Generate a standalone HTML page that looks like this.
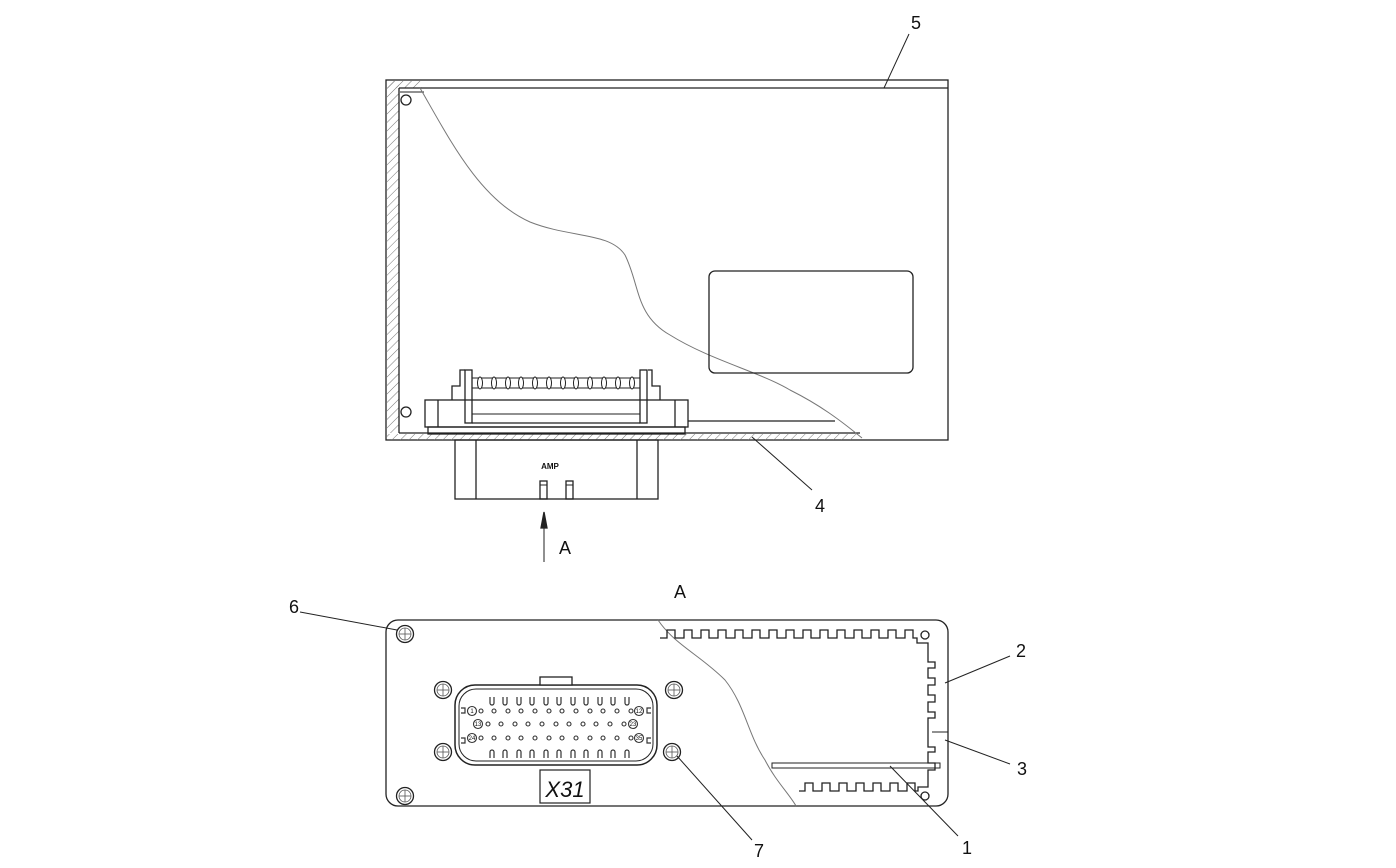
<!DOCTYPE html>
<html><head><meta charset="utf-8"><style>html,body{margin:0;padding:0;background:#fff}svg{display:block}text{font-family:"Liberation Sans",sans-serif;fill:#111}</style></head>
<body>
<svg width="1396" height="868" viewBox="0 0 1396 868" xmlns="http://www.w3.org/2000/svg">
<defs>
<pattern id="h" width="6" height="6" patternUnits="userSpaceOnUse" patternTransform="rotate(45)"><line x1="0" y1="0" x2="0" y2="6" stroke="#777" stroke-width="1"/></pattern>
<g id="scr"><circle r="8.5" fill="#fff" stroke="#222" stroke-width="1.3"/><circle r="6" fill="none" stroke="#555" stroke-width="0.8"/><line x1="-6" y1="0" x2="6" y2="0" stroke="#555" stroke-width="0.8"/><line x1="0" y1="-6" x2="0" y2="6" stroke="#555" stroke-width="0.8"/></g>
</defs>
<g fill="none" stroke="#222" stroke-width="1.3">
<!-- top view -->
<rect x="386" y="80" width="562" height="360"/>
<rect x="387" y="81" width="12" height="352" fill="url(#h)" stroke="none"/>
<rect x="387" y="81" width="35" height="7" fill="url(#h)" stroke="none"/>
<rect x="387" y="434" width="470" height="6" fill="url(#h)" stroke="none"/>
<line x1="399" y1="88" x2="399" y2="433"/>
<line x1="399" y1="88" x2="948" y2="88"/>
<line x1="400" y1="92" x2="424" y2="92" stroke-width="1"/>
<line x1="399" y1="433" x2="860" y2="433"/>
<line x1="688" y1="421" x2="835" y2="421"/>
<circle cx="406" cy="100" r="5"/><circle cx="406" cy="412" r="5"/>
<path d="M420,88 C450,140 480,200 530,222 C570,238 610,232 625,255 C640,285 635,315 670,335 C710,360 760,372 790,390 C820,405 840,420 862,438" stroke="#777" stroke-width="1"/>
<rect x="709" y="271" width="204" height="102" rx="6"/>
<!-- connector top -->
<rect x="425" y="400" width="263" height="27"/>
<rect x="428" y="427" width="257" height="7"/>
<line x1="438" y1="400" x2="438" y2="427"/><line x1="675" y1="400" x2="675" y2="427"/>
<path d="M452,400 V386 H460 V370 H465"/><path d="M660,400 V386 H652 V370 H648"/>
<rect x="465" y="370" width="7" height="53"/><rect x="640" y="370" width="7" height="53"/>
<line x1="472" y1="414" x2="640" y2="414" stroke-width="1"/>
<line x1="472" y1="423" x2="640" y2="423"/>
<line x1="472" y1="378" x2="640" y2="378" stroke-width="1"/>
<line x1="472" y1="388" x2="640" y2="388" stroke-width="1"/>
<g fill="#fff" stroke-width="1">
<ellipse cx="480" cy="383" rx="2.5" ry="6"/><ellipse cx="494" cy="383" rx="2.5" ry="6"/><ellipse cx="508" cy="383" rx="2.5" ry="6"/><ellipse cx="521" cy="383" rx="2.5" ry="6"/><ellipse cx="535" cy="383" rx="2.5" ry="6"/><ellipse cx="549" cy="383" rx="2.5" ry="6"/><ellipse cx="563" cy="383" rx="2.5" ry="6"/><ellipse cx="576" cy="383" rx="2.5" ry="6"/><ellipse cx="590" cy="383" rx="2.5" ry="6"/><ellipse cx="604" cy="383" rx="2.5" ry="6"/><ellipse cx="618" cy="383" rx="2.5" ry="6"/><ellipse cx="632" cy="383" rx="2.5" ry="6"/>
</g>
<rect x="455" y="440" width="203" height="59"/>
<line x1="476" y1="440" x2="476" y2="499"/><line x1="637" y1="440" x2="637" y2="499"/>
<rect x="540" y="481" width="7" height="18"/><rect x="566" y="481" width="7" height="18"/>
<line x1="540" y1="485" x2="547" y2="485" stroke-width="1"/><line x1="566" y1="485" x2="573" y2="485" stroke-width="1"/>
<!-- arrow -->
<line x1="544" y1="562" x2="544" y2="522" stroke-width="1"/>
<path d="M544,512 L541,528 L547,528 Z" fill="#222"/>
<!-- leaders -->
<line x1="909" y1="34" x2="884" y2="88" stroke-width="1"/>
<line x1="812" y1="490" x2="752" y2="437" stroke-width="1"/>
<!-- bottom view -->
<rect x="386" y="620" width="562" height="186" rx="12"/>
<path d="M658,620 C675,645 700,655 725,680 C745,705 748,735 765,760 C775,780 790,795 796,806" stroke="#777" stroke-width="1"/>
<path d="M660,638 h7 v-8 h8 v8 h9 v-8 h8 v8 h9 v-8 h8 v8 h9 v-8 h8 v8 h9 v-8 h8 v8 h9 v-8 h8 v8 h9 v-8 h8 v8 h9 v-8 h8 v8 h9 v-8 h8 v8 h9 v-8 h8 v8 h9 v-8 h8 v8 h9 v-8 h8 v8 h9 v-8 h8 v8 h9 v-8 h8 v8 h9 v-8 h8 v8 h4 v5 h11 V662 h7 v6 h-7 v10 h7 v7 h-7 v10 h7 v7 h-7 v10 h7 v6 h-7 v29 h7 v5 h-7 v11 h7 v7 h-7 v17 h-10 v4 h-3 v-8 h-8 v8 h-9 v-8 h-8 v8 h-9 v-8 h-8 v8 h-9 v-8 h-8 v8 h-9 v-8 h-8 v8 h-9 v-8 h-8 v8 h-9 v-8 h-8 v8 h-6"/>
<line x1="932" y1="732" x2="948" y2="732" stroke-width="1"/>
<rect x="772" y="763" width="168" height="5" stroke-width="1"/>
<circle cx="925" cy="635" r="4"/><circle cx="925" cy="796" r="4"/>
<use href="#scr" x="405" y="634"/><use href="#scr" x="405" y="796"/>
<use href="#scr" x="443" y="690"/><use href="#scr" x="443" y="752"/>
<use href="#scr" x="674" y="690"/><use href="#scr" x="672" y="752"/>
<rect x="455" y="685" width="202" height="80" rx="20" stroke-width="1.5"/>
<rect x="459" y="689" width="194" height="72" rx="17" stroke-width="1"/>
<rect x="540" y="677" width="32" height="8" fill="#fff"/>
<rect x="540" y="770" width="50" height="33" stroke-width="1.2"/>
<line x1="300" y1="612" x2="397" y2="630" stroke-width="1"/>
<line x1="1010" y1="656" x2="945" y2="683" stroke-width="1"/>
<line x1="1010" y1="764" x2="945" y2="740" stroke-width="1"/>
<line x1="958" y1="836" x2="890" y2="766" stroke-width="1"/>
<line x1="752" y1="840" x2="677" y2="756" stroke-width="1"/>
</g>
<!-- pins -->
<g fill="none" stroke="#333" stroke-width="1.2">
<path d="M490,697 v6 a2,2 0 0 0 4,0 v-6 M503,697 v6 a2,2 0 0 0 4,0 v-6 M517,697 v6 a2,2 0 0 0 4,0 v-6 M530,697 v6 a2,2 0 0 0 4,0 v-6 M544,697 v6 a2,2 0 0 0 4,0 v-6 M557,697 v6 a2,2 0 0 0 4,0 v-6 M571,697 v6 a2,2 0 0 0 4,0 v-6 M584,697 v6 a2,2 0 0 0 4,0 v-6 M598,697 v6 a2,2 0 0 0 4,0 v-6 M611,697 v6 a2,2 0 0 0 4,0 v-6 M625,697 v6 a2,2 0 0 0 4,0 v-6"/>
<path d="M490,758 v-6 a2,2 0 0 1 4,0 v6 M503,758 v-6 a2,2 0 0 1 4,0 v6 M517,758 v-6 a2,2 0 0 1 4,0 v6 M530,758 v-6 a2,2 0 0 1 4,0 v6 M544,758 v-6 a2,2 0 0 1 4,0 v6 M557,758 v-6 a2,2 0 0 1 4,0 v6 M571,758 v-6 a2,2 0 0 1 4,0 v6 M584,758 v-6 a2,2 0 0 1 4,0 v6 M598,758 v-6 a2,2 0 0 1 4,0 v6 M611,758 v-6 a2,2 0 0 1 4,0 v6 M625,758 v-6 a2,2 0 0 1 4,0 v6"/>
<path d="M461,708 h4 v5 h-4 M461,738 h4 v5 h-4 M651,708 h-4 v5 h4 M651,738 h-4 v5 h4"/>
</g>
<g fill="#fff" stroke="#333" stroke-width="1.1">
<circle cx="481" cy="711" r="2"/><circle cx="494" cy="711" r="2"/><circle cx="508" cy="711" r="2"/><circle cx="521" cy="711" r="2"/><circle cx="535" cy="711" r="2"/><circle cx="549" cy="711" r="2"/><circle cx="562" cy="711" r="2"/><circle cx="576" cy="711" r="2"/><circle cx="590" cy="711" r="2"/><circle cx="603" cy="711" r="2"/><circle cx="617" cy="711" r="2"/><circle cx="631" cy="711" r="2"/>
<circle cx="488" cy="724" r="2"/><circle cx="501" cy="724" r="2"/><circle cx="515" cy="724" r="2"/><circle cx="528" cy="724" r="2"/><circle cx="542" cy="724" r="2"/><circle cx="556" cy="724" r="2"/><circle cx="569" cy="724" r="2"/><circle cx="583" cy="724" r="2"/><circle cx="596" cy="724" r="2"/><circle cx="610" cy="724" r="2"/><circle cx="624" cy="724" r="2"/>
<circle cx="481" cy="738" r="2"/><circle cx="494" cy="738" r="2"/><circle cx="508" cy="738" r="2"/><circle cx="521" cy="738" r="2"/><circle cx="535" cy="738" r="2"/><circle cx="549" cy="738" r="2"/><circle cx="562" cy="738" r="2"/><circle cx="576" cy="738" r="2"/><circle cx="590" cy="738" r="2"/><circle cx="603" cy="738" r="2"/><circle cx="617" cy="738" r="2"/><circle cx="631" cy="738" r="2"/>
<circle cx="472" cy="711" r="4.5"/><circle cx="639" cy="711" r="4.5"/><circle cx="478" cy="724" r="4.5"/><circle cx="633" cy="724" r="4.5"/><circle cx="472" cy="738" r="4.5"/><circle cx="639" cy="738" r="4.5"/>
</g>
<g font-size="6" text-anchor="middle" style="font-family:'Liberation Sans',sans-serif">
<text x="472" y="713">1</text><text x="639" y="713">12</text><text x="478" y="726">13</text><text x="633" y="726">23</text><text x="472" y="740">24</text><text x="639" y="740">35</text>
</g>
<text x="550" y="469" font-size="8" font-weight="bold" text-anchor="middle">AMP</text>
<text x="565" y="554" font-size="18" text-anchor="middle">A</text>
<text x="680" y="598" font-size="18" text-anchor="middle">A</text>
<text x="565" y="797" font-size="22" font-style="italic" text-anchor="middle">X31</text>
<g font-size="18" text-anchor="middle">
<text x="916" y="29">5</text><text x="820" y="512">4</text><text x="294" y="613">6</text><text x="1021" y="657">2</text><text x="1022" y="775">3</text><text x="967" y="854">1</text><text x="759" y="857">7</text>
</g>
</svg>
</body></html>
